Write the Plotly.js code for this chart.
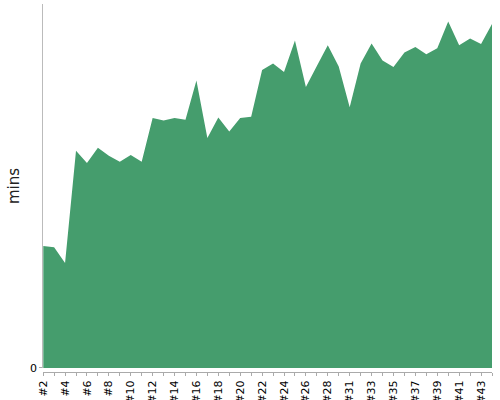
<!DOCTYPE html>
<html>
<head>
<meta charset="utf-8">
<script src="https://cdn.plot.ly/plotly-3.0.1.min.js"></script>
<style>html,body{margin:0;padding:0;background:#fff}#chart{width:500px;height:400px}</style>
</head>
<body>
<div id="chart"></div>
<script>
var categories = ["#2","#3","#4","#5","#6","#7","#8","#9","#10","#11","#12","#13","#14","#15","#16","#17","#18","#19","#20","#21","#22","#23","#24","#25","#26","#27","#28","#29","#31","#32","#33","#34","#35","#36","#37","#38","#39","#40","#41","#42","#43","#44"];
var mins = [20.1,19.9,17.3,35.8,33.8,36.3,35.0,34.0,35.1,34.0,41.2,40.8,41.2,40.9,47.4,37.9,41.3,39.0,41.2,41.4,49.1,50.2,48.8,54.0,46.3,49.8,53.2,49.7,43.0,50.2,53.5,50.7,49.6,52.0,52.9,51.7,52.7,57.1,53.2,54.3,53.4,56.7];
var tickLabels = categories.map(function(c, i){ return i % 2 === 0 ? c : ""; });

var trace = {
  type: 'scatter',
  x: categories,
  y: mins,
  mode: 'none',
  fill: 'tozeroy',
  fillcolor: '#459d6d',
  hoverinfo: 'x+y'
};

var layout = {
  width: 500, height: 400,
  margin: {l: 40, r: 8, t: 4, b: 28},
  paper_bgcolor: '#fff', plot_bgcolor: '#fff',
  showlegend: false,
  font: {family: 'DejaVu Sans, sans-serif', color: '#000'},
  xaxis: {
    type: 'category',
    domain: [0.007, 1],
    range: [0, categories.length - 1],
    anchor: 'free', position: 0,
    tickmode: 'array', tickvals: categories, ticktext: tickLabels,
    tickangle: -90,
    ticks: 'outside', ticklen: 3, tickcolor: '#aaa',
    showline: true, linecolor: '#aaa', linewidth: 1,
    showgrid: false, zeroline: false,
    tickfont: {size: 11, color: '#000'}
  },
  yaxis: {
    domain: [0.0109, 1],
    range: [0, 60],
    tickmode: 'array', tickvals: [0], ticktext: ['0'],
    ticks: 'outside', ticklen: 3, tickcolor: '#aaa',
    showline: true, linecolor: '#bbb', linewidth: 1,
    showgrid: false, zeroline: false,
    tickfont: {size: 11, color: '#000'},
    title: {text: 'mins', font: {size: 15, color: '#222'}, standoff: 6}
  }
};

Plotly.newPlot('chart', [trace], layout, {displayModeBar: false, staticPlot: true});
</script>
</body>
</html>
